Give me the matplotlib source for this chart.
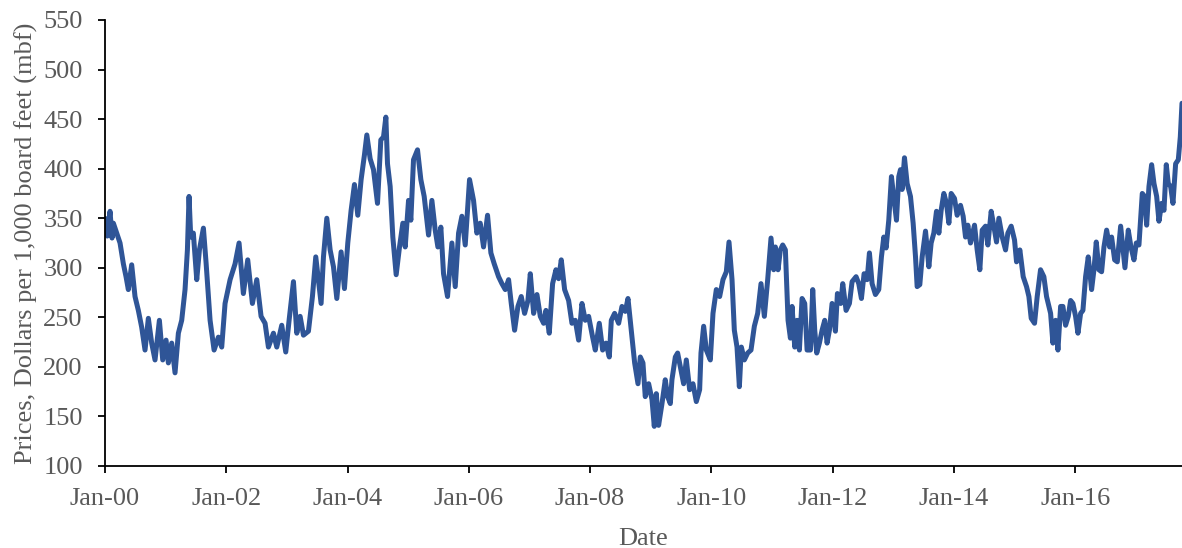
import pandas as pd
import matplotlib.pyplot as plt
import matplotlib.dates as mdates

# years after Jan 2000
yrs = [
    0.0, 0.016, 0.038, 0.083, 0.116, 0.138, 0.193, 0.248, 0.303, 0.347, 0.385, 0.44, 0.495, 0.55, 0.605,
    0.66, 0.715, 0.77, 0.825, 0.897, 0.952, 1.007, 1.045, 1.1, 1.155, 1.21, 1.265, 1.32, 1.359, 1.386,
    1.414, 1.457, 1.513, 1.557, 1.623, 1.667, 1.733, 1.799, 1.87, 1.925, 1.98, 2.063,
    2.145, 2.211, 2.282, 2.354, 2.431, 2.503, 2.574, 2.64, 2.695, 2.778, 2.833, 2.915, 2.981, 3.036,
    3.108, 3.163, 3.218, 3.273, 3.355, 3.421, 3.476, 3.564, 3.603, 3.658, 3.713, 3.768, 3.823, 3.894,
    3.949, 4.004, 4.059, 4.114, 4.169, 4.224, 4.279, 4.318,
    4.373, 4.428, 4.494, 4.549, 4.593, 4.632, 4.659, 4.703, 4.747, 4.802, 4.857, 4.912, 4.951, 5.006,
    5.044, 5.088, 5.154, 5.209, 5.264, 5.336, 5.391, 5.446, 5.49, 5.539, 5.583, 5.649, 5.721, 5.776,
    5.831, 5.886, 5.941, 6.012, 6.078, 6.133, 6.188, 6.243, 6.309, 6.364, 6.419, 6.491, 6.546,
    6.601, 6.656, 6.7, 6.755, 6.81, 6.865, 6.92, 6.975, 7.014, 7.069, 7.124, 7.179, 7.234, 7.272,
    7.327, 7.382, 7.437, 7.481, 7.525, 7.58, 7.646, 7.701, 7.756, 7.811, 7.866, 7.921, 7.976, 8.042,
    8.086, 8.152, 8.207, 8.262, 8.317, 8.35, 8.405, 8.471, 8.526, 8.581, 8.625, 8.68, 8.735, 8.79,
    8.828, 8.872, 8.91, 8.966, 9.021, 9.059, 9.092, 9.13, 9.186, 9.24, 9.279, 9.323, 9.35, 9.406,
    9.444, 9.488, 9.543, 9.587, 9.642, 9.697, 9.752, 9.807, 9.829, 9.873, 9.917, 9.983, 10.027, 10.082,
    10.137, 10.192, 10.247, 10.291, 10.341, 10.379, 10.423, 10.462, 10.495, 10.544, 10.599, 10.654,
    10.709, 10.764, 10.819, 10.874, 10.929, 10.984, 11.028,
    11.056, 11.1, 11.138, 11.177, 11.221, 11.265, 11.304, 11.331, 11.375, 11.414, 11.452, 11.496,
    11.54, 11.579, 11.634, 11.672, 11.705, 11.738, 11.782, 11.826, 11.87, 11.909, 11.947, 11.991,
    12.046, 12.079, 12.134, 12.167, 12.222, 12.277, 12.321, 12.387, 12.431, 12.475, 12.519, 12.569,
    12.607, 12.651, 12.706, 12.761, 12.805, 12.844, 12.882, 12.926, 12.97, 13.014, 13.053, 13.091,
    13.119, 13.146, 13.185, 13.229,
    13.284, 13.328, 13.367, 13.394, 13.438, 13.477, 13.532, 13.587, 13.625, 13.669, 13.713, 13.752,
    13.79, 13.834, 13.878, 13.917, 13.955, 14.01, 14.054, 14.109, 14.153, 14.192, 14.23, 14.274,
    14.34, 14.384, 14.428, 14.467, 14.522, 14.56, 14.615, 14.659, 14.703, 14.742, 14.797, 14.852,
    14.89, 14.945, 15.0, 15.033, 15.088, 15.143, 15.198, 15.237, 15.275, 15.33, 15.374, 15.429,
    15.484, 15.528,
    15.556, 15.595, 15.633, 15.677, 15.716, 15.76, 15.798, 15.842, 15.886, 15.925, 15.963, 16.007,
    16.046, 16.09, 16.128, 16.172, 16.216, 16.271, 16.31, 16.348, 16.392, 16.436, 16.475, 16.519,
    16.568, 16.601, 16.651, 16.695, 16.75, 16.788, 16.821, 16.876, 16.92, 16.97, 17.008, 17.052,
    17.107, 17.146, 17.179, 17.217, 17.261, 17.3, 17.344, 17.382, 17.426, 17.465, 17.503, 17.536,
    17.575, 17.613, 17.657, 17.701, 17.734, 17.762,
]

# $ per mbf
prices = [
    350, 348, 332, 357, 330, 345, 335, 325, 304, 291, 278, 303, 271, 257, 240,
    217, 249, 224, 207, 247, 207, 227, 204, 224, 194, 234, 247, 278, 318, 372,
    331, 335, 288, 318, 340, 305, 247, 217, 230, 220, 264, 288,
    304, 325, 274, 308, 264, 288, 251, 244, 220, 234, 220, 242, 215, 247,
    286, 234, 251, 232, 236, 271, 311, 264, 311, 350, 318, 301, 269, 316,
    279, 325, 358, 384, 353, 389, 414, 434,
    410, 399, 365, 429, 432, 452, 405, 382, 331, 293, 321, 345, 321, 368,
    348, 409, 419, 389, 372, 333, 368, 338, 321, 341, 294, 271, 325, 281,
    335, 352, 323, 389, 368, 335, 345, 321, 353, 315, 304, 291, 284,
    278, 288, 264, 237, 261, 271, 254, 267, 294, 254, 273, 251, 244, 257,
    234, 284, 298, 289, 308, 278, 267, 244, 247, 227, 264, 247, 251, 230,
    217, 244, 217, 224, 210, 247, 254, 244, 261, 256, 269, 237, 204, 183,
    210, 204, 170, 183, 167, 140, 173, 141, 163, 187, 170, 163, 187, 210,
    214, 200, 183, 207, 177, 183, 165, 177, 214, 241, 217, 207, 254, 278,
    271, 288, 296, 326, 288, 237, 220, 180, 220, 207, 214, 217,
    241, 254, 284, 251, 288, 330, 298,
    321, 298, 318, 323, 318, 247, 229, 261, 220, 247, 217, 269,
    264, 217, 217, 278, 237, 214, 224, 237, 247, 224, 237, 264,
    236, 274, 264, 284, 257, 264, 286, 291, 284, 269, 294, 288,
    315, 284, 273, 278, 311, 331, 320, 348, 392, 368, 348, 392,
    399, 379, 411, 385,
    372, 345, 311, 281, 283, 311, 337, 301, 325, 335, 357, 335,
    358, 375, 365, 345, 375, 370, 353, 363, 352, 331, 343, 325,
    343, 318, 298, 338, 342, 323, 357, 342, 326, 350, 331, 318,
    335, 342, 328, 306, 318, 291, 281, 271, 249, 244, 271, 298,
    291, 271,
    264, 254, 224, 247, 217, 261, 261, 242, 251, 267, 264, 251,
    234, 254, 257, 291, 311, 278, 298, 326, 298, 296, 321, 338,
    321, 331, 308, 306, 342, 320, 300, 338, 321, 308, 325, 323,
    375, 372, 343, 382, 404, 385, 372, 347, 365, 358, 404, 385,
    382, 365, 405, 409, 432, 466,
]

LINE_COLOR = "#2F5597"
TEXT_COLOR = "#595959"
FS = 19

plt.rcParams["font.family"] = ["Liberation Serif", "DejaVu Serif"]

dates = pd.Timestamp("2000-01-01") + pd.to_timedelta(pd.Series(yrs) * 365.25, unit="D")

fig = plt.figure(figsize=(11.82, 5.48), dpi=100)
ax = fig.add_axes([105 / 1182, 1 - 466 / 548, 1 - 105 / 1182, (466 - 20) / 548])

ax.plot(dates, prices, color=LINE_COLOR, lw=3.6, solid_joinstyle="round", solid_capstyle="round")

ax.set_ylim(100, 550)
ax.set_yticks(range(100, 551, 50))
ax.set_xlim(pd.Timestamp("2000-01-01"), dates.iloc[-1])
ax.xaxis.set_major_locator(mdates.YearLocator(2, month=1, day=1))
ax.xaxis.set_major_formatter(mdates.DateFormatter("%b-%y"))

for side in ("top", "right"):
    ax.spines[side].set_visible(False)
for side in ("left", "bottom"):
    ax.spines[side].set_linewidth(1.3)
    ax.spines[side].set_color("black")

ax.tick_params(axis="both", direction="out", length=5, width=1.3, color="black",
               labelsize=FS, labelcolor=TEXT_COLOR)
ax.tick_params(axis="x", pad=11)
ax.tick_params(axis="y", pad=11)

ax.set_xlabel("Date", fontsize=FS, color=TEXT_COLOR, labelpad=13)
ax.set_ylabel("Prices, Dollars per 1,000 board feet (mbf)", fontsize=FS, color=TEXT_COLOR, labelpad=4)

fig.savefig("out.png", dpi=100)
